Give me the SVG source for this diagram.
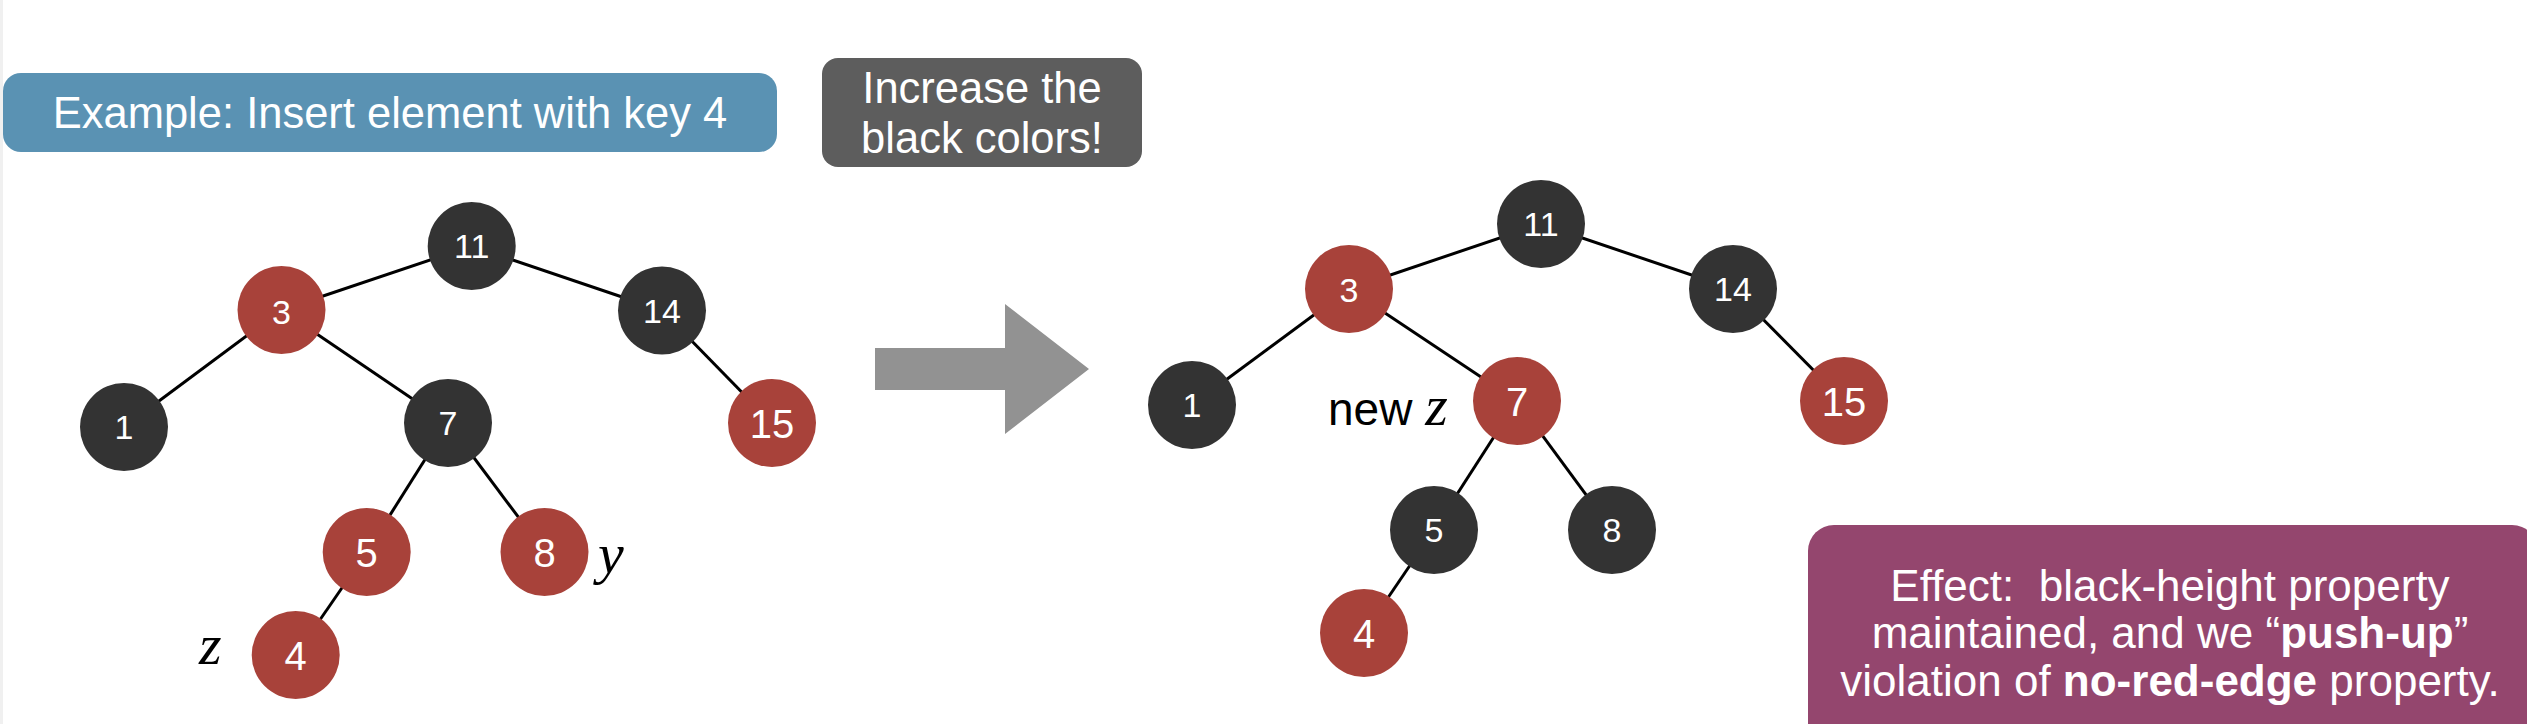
<svg xmlns="http://www.w3.org/2000/svg" width="2527" height="724" viewBox="0 0 2527 724">
<style>
.edge{stroke:#000;stroke-width:3;fill:none}
.blk{fill:#333333}
.red{fill:#a8423a}
.lbl{font-family:"Liberation Sans",Arial,sans-serif;font-size:34px;fill:#fff;text-anchor:middle}
.big{font-size:40px}
.box{font-family:"Liberation Sans",Arial,sans-serif;fill:#fff;text-anchor:middle}
.math{font-family:"Liberation Serif","Times New Roman",serif;font-style:italic;font-size:58px;fill:#000}
</style>
<rect x="0" y="0" width="2527" height="724" fill="#fff"/>
<rect x="0" y="0" width="3" height="724" fill="#f0f0f0"/>
<g id="title">
<rect x="3" y="73" width="774" height="79" rx="18" fill="#5a92b3"/>
<text class="box" x="390" y="128" font-size="43.5">Example: Insert element with key 4</text>
</g>
<g id="hint">
<rect x="822" y="58" width="320" height="109" rx="16" fill="#5d5d5d"/>
<text class="box" x="982" y="103" font-size="43.5">Increase the</text>
<text class="box" x="982" y="153" font-size="43.5">black colors!</text>
</g>
<g id="effect">
<rect x="1808" y="525" width="730" height="240" rx="26" fill="#94466e"/>
<text class="box" x="2170" y="601" font-size="44" xml:space="preserve">Effect:  black-height property</text>
<text class="box" x="2170" y="648" font-size="44">maintained, and we “<tspan font-weight="bold">push-up</tspan>”</text>
<text class="box" x="2170" y="696" font-size="44">violation of <tspan font-weight="bold">no-red-edge</tspan> property.</text>
</g>
<g id="arrow">
<polygon points="875,348 1005,348 1005,304 1089,369 1005,434 1005,390 875,390" fill="#929292"/>
</g>
<g id="connectors">
<line class="edge" x1="471.7" y1="246" x2="281.5" y2="310"/>
<line class="edge" x1="471.7" y1="246" x2="662" y2="310.5"/>
<line class="edge" x1="281.5" y1="310" x2="124" y2="427"/>
<line class="edge" x1="281.5" y1="310" x2="448" y2="423"/>
<line class="edge" x1="662" y1="310.5" x2="772" y2="423"/>
<line class="edge" x1="448" y1="423" x2="366.7" y2="552"/>
<line class="edge" x1="448" y1="423" x2="544.5" y2="552"/>
<line class="edge" x1="366.7" y1="552" x2="295.7" y2="655"/>
<line class="edge" x1="1541" y1="224" x2="1349" y2="289"/>
<line class="edge" x1="1541" y1="224" x2="1733" y2="289"/>
<line class="edge" x1="1349" y1="289" x2="1192" y2="405"/>
<line class="edge" x1="1349" y1="289" x2="1517" y2="401"/>
<line class="edge" x1="1733" y1="289" x2="1844" y2="401"/>
<line class="edge" x1="1517" y1="401" x2="1434" y2="530"/>
<line class="edge" x1="1517" y1="401" x2="1612" y2="530"/>
<line class="edge" x1="1434" y1="530" x2="1364" y2="633"/>
</g>
<g id="L11"><circle class="blk" cx="471.7" cy="246" r="44"/><text class="lbl" x="471.7" y="258">11</text></g>
<g id="L3"><circle class="red" cx="281.5" cy="310" r="44"/><text class="lbl" x="281.5" y="323.5" font-size="38">3</text></g>
<g id="L14"><circle class="blk" cx="662" cy="310.5" r="44"/><text class="lbl" x="662" y="322.5">14</text></g>
<g id="L1"><circle class="blk" cx="124" cy="427" r="44"/><text class="lbl" x="124" y="439">1</text></g>
<g id="L7"><circle class="blk" cx="448" cy="423" r="44"/><text class="lbl" x="448" y="435">7</text></g>
<g id="L15"><circle class="red" cx="772" cy="423" r="44"/><text class="lbl big" x="772" y="437.5">15</text></g>
<g id="L5"><circle class="red" cx="366.7" cy="552" r="44"/><text class="lbl big" x="366.7" y="566.5">5</text></g>
<g id="L8"><circle class="red" cx="544.5" cy="552" r="44"/><text class="lbl big" x="544.5" y="566.5">8</text></g>
<g id="L4"><circle class="red" cx="295.7" cy="655" r="44"/><text class="lbl big" x="295.7" y="669.5">4</text></g>
<g id="Lz"><text class="math" x="199" y="664">z</text></g>
<g id="Ly"><text class="math" x="598" y="573">y</text></g>
<g id="R11"><circle class="blk" cx="1541" cy="224" r="44"/><text class="lbl" x="1541" y="236">11</text></g>
<g id="R3"><circle class="red" cx="1349" cy="289" r="44"/><text class="lbl" x="1349" y="301.5" font-size="36">3</text></g>
<g id="R14"><circle class="blk" cx="1733" cy="289" r="44"/><text class="lbl" x="1733" y="301">14</text></g>
<g id="R1"><circle class="blk" cx="1192" cy="405" r="44"/><text class="lbl" x="1192" y="417">1</text></g>
<g id="R7"><circle class="red" cx="1517" cy="401" r="44"/><text class="lbl big" x="1517" y="415.5">7</text></g>
<g id="R15"><circle class="red" cx="1844" cy="401" r="44"/><text class="lbl big" x="1844" y="415.5">15</text></g>
<g id="R5"><circle class="blk" cx="1434" cy="530" r="44"/><text class="lbl" x="1434" y="542">5</text></g>
<g id="R8"><circle class="blk" cx="1612" cy="530" r="44"/><text class="lbl" x="1612" y="542">8</text></g>
<g id="R4"><circle class="red" cx="1364" cy="633" r="44"/><text class="lbl big" x="1364" y="647.5">4</text></g>
<g id="newz"><text x="1328" y="425" font-family="Liberation Sans,Arial,sans-serif" font-size="46" fill="#000">new <tspan class="math">z</tspan></text></g>
</svg>
